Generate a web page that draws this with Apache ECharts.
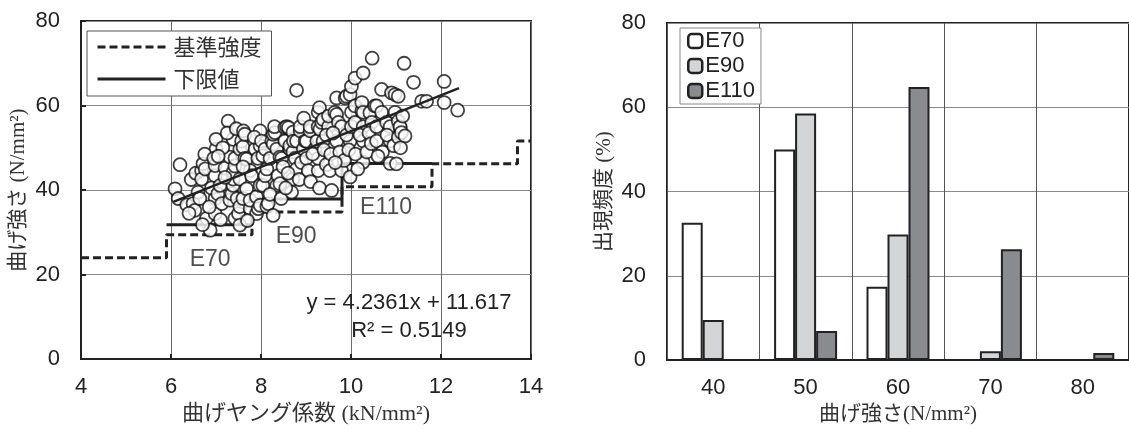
<!DOCTYPE html>
<html><head><meta charset="utf-8">
<script src="https://cdn.jsdelivr.net/npm/echarts@6/dist/echarts.min.js"></script>
<style>html,body{margin:0;padding:0;background:#fff}#c{width:1129px;height:430px}</style>
</head><body><div id="c"></div>
<script>
// ---- Left chart data: bending Young's modulus (kN/mm2) vs bending strength (N/mm2)
const scatterPoints = [
  [6.09,40.3],[6.16,38.0],[6.2,46.0],[6.35,36.5],[6.45,42.5],[6.49,36.8],[6.53,35.2],[6.55,44.0],[6.6,39.5],[6.4,34.5],
  [6.68,44.6],[6.68,42.6],[6.71,46.2],[6.76,45.0],[6.79,33.3],[6.87,30.5],[6.98,34.4],[6.98,43.4],[6.98,45.8],[6.98,38.0],
  [7.0,49.7],[7.0,52.0],[6.64,38.0],[6.85,36.0],[6.9,40.5],[6.75,48.5],[6.95,47.5],[6.7,31.8],
  [7.04,39.1],[7.09,41.1],[7.13,36.8],[7.2,45.2],[7.27,56.3],[7.31,37.6],[7.31,47.8],[7.35,39.1],[7.38,41.1],[7.38,42.6],
  [7.38,44.3],[7.38,52.0],[7.42,33.3],[7.42,45.7],[7.42,47.5],[7.47,38.0],[7.5,34.4],[7.1,33.0],[7.15,50.0],[7.25,53.5],
  [7.45,54.5],[7.2,43.0],[7.05,48.0],
  [7.53,31.7],[7.53,36.1],[7.53,42.6],[7.53,49.7],[7.57,51.6],[7.6,38.0],[7.6,50.2],[7.61,54.0],[7.64,47.5],[7.64,53.2],
  [7.68,40.3],[7.68,47.3],[7.76,35.6],[7.76,37.6],[7.76,44.6],[7.79,43.4],[7.87,49.7],[7.9,34.4],[7.9,38.4],[7.93,47.5],
  [7.94,35.6],[7.98,36.4],[7.98,50.5],[7.98,54.0],[7.98,41.1],[7.7,32.8],[7.85,52.5],[7.6,45.5],
  [8.01,51.6],[8.04,41.1],[8.04,48.1],[8.09,43.4],[8.09,49.7],[8.13,36.1],[8.13,45.0],[8.16,36.8],[8.2,47.5],[8.24,51.6],
  [8.27,34.0],[8.27,50.9],[8.27,53.2],[8.31,53.6],[8.35,41.1],[8.35,49.7],[8.38,43.4],[8.42,41.5],[8.42,47.8],[8.46,47.5],
  [8.49,45.5],[8.2,39.0],[8.45,38.0],[8.3,55.0],
  [8.53,51.6],[8.53,54.8],[8.57,55.0],[8.61,54.8],[8.64,49.7],[8.64,50.5],[8.68,39.5],[8.71,42.6],[8.71,49.0],[8.71,53.7],
  [8.72,51.6],[8.76,47.5],[8.79,45.0],[8.79,51.6],[8.79,63.6],[8.87,54.0],[8.87,55.0],[8.94,49.7],[8.98,51.6],[8.6,44.0],
  [8.9,46.5],[8.55,40.5],[8.85,42.5],[8.95,57.0],
  [9.01,47.5],[9.01,51.6],[9.05,44.6],[9.09,54.0],[9.09,55.0],[9.2,49.7],[9.24,51.6],[9.27,44.6],[9.27,47.5],[9.27,55.0],
  [9.27,58.4],[9.3,59.5],[9.31,54.4],[9.35,56.0],[9.38,51.6],[9.38,56.7],[9.5,55.0],[9.5,57.5],[9.1,42.0],[9.15,48.5],
  [9.4,49.5],[9.45,46.0],[9.3,40.5],[9.45,53.0],
  [9.53,44.6],[9.57,39.9],[9.64,58.4],[9.68,51.6],[9.68,57.9],[9.68,61.8],[9.72,56.0],[9.79,44.6],[9.79,55.0],[9.87,61.8],
  [9.9,62.2],[9.98,43.1],[9.98,51.6],[9.98,62.6],[9.55,48.5],[9.6,53.5],[9.75,49.0],[9.85,47.0],[9.9,53.0],[9.95,49.5],[9.65,46.5],
  [10.01,55.0],[10.01,58.4],[10.01,64.5],[10.09,56.0],[10.09,59.9],[10.09,66.5],[10.24,58.7],[10.24,60.7],[10.27,46.6],[10.27,51.6],
  [10.27,55.0],[10.27,58.4],[10.27,67.7],[10.42,58.3],[10.46,56.0],[10.47,71.2],[10.1,48.5],[10.2,53.0],[10.35,49.0],[10.4,53.5],
  [10.15,45.0],[10.45,51.0],
  [10.53,59.9],[10.57,51.6],[10.57,55.0],[10.57,59.9],[10.68,58.4],[10.68,63.8],[10.79,56.0],[10.87,46.3],[10.87,51.6],[10.87,55.0],
  [10.9,63.0],[10.98,58.4],[10.98,62.6],[10.7,49.0],[10.8,53.0],[10.6,48.0],[10.95,50.5],
  [11.01,46.2],[11.05,52.5],[11.05,56.3],[11.05,62.2],[11.09,54.8],[11.09,55.0],[11.12,53.6],[11.18,70.0],[11.2,52.8],[11.39,65.5],
  [11.57,61.0],[11.68,61.0],[12.07,60.7],[12.07,65.7],[12.37,58.9],[11.15,57.5],[11.1,50.0]
];
const regressionLine = [[6.05,37.2],[12.4,64.1]];
const gradeBreaks = [4,5.9,7.8,9.8,11.8,13.7,14];
const standardStrength = [24.0,29.4,34.8,40.8,46.2,51.6];
const lowerBreaks = [5.9,7.8,9.8,11.8];
const lowerLimit = [31.8,37.9,46.3];
const gradeNames = ['E70','E90','E110'];
const gradeLabelPos = [[6.87,23.6],[8.78,29.0],[10.78,35.8]];
const equationText = ['y = 4.2361x + 11.617','R² = 0.5149'];

// ---- Right chart data: frequency (%) by bending strength class
const strengthCategories = ['40','50','60','70','80'];
const freqE70 = [32.6,50.0,17.4,0,0];
const freqE90 = [9.5,58.5,29.8,2.1,0];
const freqE110 = [0,6.9,64.8,26.3,1.7];

function stepPath(breaks, vals){
  const out = [];
  for (let i = 0; i < vals.length; i++){
    out.push([breaks[i], vals[i]]);
    out.push([breaks[i+1], vals[i]]);
  }
  return out;
}

const sansFont = "'Liberation Sans', Arial, sans-serif";
const nameFont = "'Liberation Serif', 'Noto Sans CJK JP', serif";
const ink = '#222';

const chart = echarts.init(document.getElementById('c'), null, {renderer:'canvas'});

const tickLabel = {fontSize:22, fontFamily:sansFont, color:ink};

const option = {
  animation:false,
  backgroundColor:'#fff',
  grid:[
    {left:81, top:21, width:450, height:341, show:true, borderColor:ink, borderWidth:2, backgroundColor:'transparent'},
    {left:667, top:23, width:466, height:338, show:true, borderColor:ink, borderWidth:2, backgroundColor:'transparent'}
  ],
  xAxis:[
    {gridIndex:0, type:'value', min:4, max:14, interval:2,
     axisLine:{lineStyle:{color:ink, width:2}},
     axisTick:{inside:true, length:5, lineStyle:{color:ink, width:2}},
     axisLabel:{...tickLabel, margin:17},
     splitLine:{show:true, lineStyle:{color:'#6b6b6b', width:1}},
     name:'曲げヤング係数 (kN/mm²)', nameLocation:'middle', nameGap:37,
     nameTextStyle:{fontSize:22, fontFamily:nameFont, color:'#333'}},
    {gridIndex:1, type:'category', data:strengthCategories,
     axisLine:{lineStyle:{color:ink, width:2}},
     axisTick:{inside:true, length:5, lineStyle:{color:ink, width:2}},
     axisLabel:{...tickLabel, margin:17},
     splitLine:{show:true, lineStyle:{color:'#555', width:1}},
     name:'曲げ強さ(N/mm²)', nameLocation:'middle', nameGap:37,
     nameTextStyle:{fontSize:21, fontFamily:nameFont, color:'#333'}}
  ],
  yAxis:[
    {gridIndex:0, type:'value', min:0, max:80, interval:20,
     axisLine:{lineStyle:{color:ink, width:2}},
     axisTick:{inside:true, length:5, lineStyle:{color:ink, width:2}},
     axisLabel:{...tickLabel, margin:21},
     splitLine:{show:true, lineStyle:{color:'#8a8a8a', width:1}},
     name:'曲げ強さ (N/mm²)', nameLocation:'middle', nameRotate:90, nameGap:52,
     nameTextStyle:{fontSize:21, fontFamily:nameFont, color:'#333'}},
    {gridIndex:1, type:'value', min:0, max:80, interval:20,
     axisLine:{lineStyle:{color:ink, width:2}},
     axisTick:{inside:true, length:5, lineStyle:{color:ink, width:2}},
     axisLabel:{...tickLabel, margin:21},
     splitLine:{show:true, lineStyle:{color:'#8a8a8a', width:1}},
     name:'出現頻度 (%)', nameLocation:'middle', nameRotate:90, nameGap:52,
     nameTextStyle:{fontSize:21, fontFamily:nameFont, color:'#333'}}
  ],
  legend:[
    {data:['基準強度','下限値'], orient:'vertical', left:87, top:31,
     itemWidth:68, itemHeight:14, itemGap:8,
     itemStyle:{opacity:0},
     lineStyle:{width:3, color:ink},
     backgroundColor:'#fff', borderColor:'#555', borderWidth:1, borderRadius:0,
     padding:[4,10,5,9],
     textStyle:{fontSize:22, fontFamily:"'Noto Sans CJK JP', sans-serif", color:'#333', lineHeight:24, padding:[0,0,0,3]}},
    {data:['E70','E90','E110'], orient:'vertical', left:680, top:28,
     itemWidth:14, itemHeight:14, itemGap:3,
     itemStyle:{borderColor:ink, borderWidth:2.5},
     backgroundColor:'#fff', borderColor:'#888', borderWidth:1, borderRadius:0,
     padding:[2,6,2,7],
     textStyle:{fontSize:22, fontFamily:sansFont, color:ink, lineHeight:22, padding:[0,0,0,-2]}}
  ],
  graphic:[
    {type:'text', x:409, y:303, z:100, style:{text:equationText[0], font:"22px 'Liberation Sans', Arial", fill:ink, align:'center', verticalAlign:'middle'}},
    {type:'text', x:409, y:331, z:100, style:{text:equationText[1], font:"22px 'Liberation Sans', Arial", fill:ink, align:'center', verticalAlign:'middle'}}
  ],
  series:[
    {name:'基準強度', type:'line', xAxisIndex:0, yAxisIndex:0, data:stepPath(gradeBreaks, standardStrength),
     symbol:'none', z:2, lineStyle:{color:ink, width:3, type:[8,4]}, itemStyle:{color:ink}},
    {name:'下限値', type:'line', xAxisIndex:0, yAxisIndex:0, data:stepPath(lowerBreaks, lowerLimit),
     symbol:'none', z:2, lineStyle:{color:ink, width:3, type:'solid'}, itemStyle:{color:ink}},
    {name:'data', type:'scatter', xAxisIndex:0, yAxisIndex:0, data:scatterPoints, symbol:'circle', symbolSize:13, z:3,
     itemStyle:{color:'#fff', borderColor:'#111', borderWidth:1.8}},
    {name:'regression', type:'line', xAxisIndex:0, yAxisIndex:0, data:regressionLine, symbol:'none', z:4,
     lineStyle:{color:ink, width:2.5}},
    {name:'gradeLabels', type:'scatter', xAxisIndex:0, yAxisIndex:0, symbolSize:1, silent:true, z:5,
     itemStyle:{color:'transparent'},
     data:gradeNames.map((n,i)=>({name:n, value:gradeLabelPos[i]})),
     label:{show:true, position:'inside', formatter:p=>p.name, fontSize:23, fontFamily:sansFont, color:ink}},
    {name:'E70', type:'bar', xAxisIndex:1, yAxisIndex:1, data:freqE70, barWidth:21, barGap:'0%',
     itemStyle:{color:'#ffffff', borderColor:ink, borderWidth:2}},
    {name:'E90', type:'bar', xAxisIndex:1, yAxisIndex:1, data:freqE90, barWidth:21, barGap:'0%',
     itemStyle:{color:'#d4d5d7', borderColor:ink, borderWidth:2}},
    {name:'E110', type:'bar', xAxisIndex:1, yAxisIndex:1, data:freqE110, barWidth:21, barGap:'0%',
     itemStyle:{color:'#8a8b8e', borderColor:ink, borderWidth:2}}
  ]
};
chart.setOption(option);
</script>
</body></html>
